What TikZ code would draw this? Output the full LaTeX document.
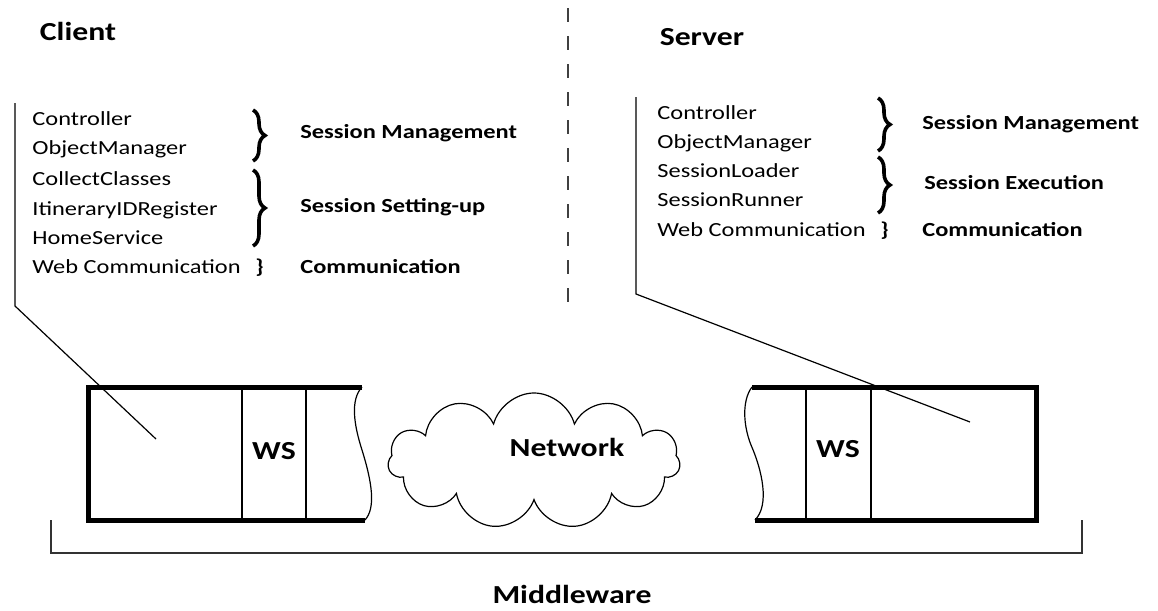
\documentclass[tikz,border=0pt]{standalone}
\usepackage{fontspec}
\setmainfont{Carlito}[FakeStretch=1.22]
\usetikzlibrary{shapes.symbols,decorations.pathreplacing}

\begin{document}
\begin{tikzpicture}[x=0.5pt,y=-0.5pt,
    item/.style={anchor=west,inner sep=0pt,text height=0.65em,text depth=0.2em,font=\fontsize{10}{12}\selectfont},
    tag/.style={item,font=\fontsize{10}{12}\selectfont\bfseries},
    title/.style={inner sep=0pt,text height=0.65em,text depth=0.2em,font=\fontsize{13}{15}\selectfont\bfseries},
    brace/.style={decorate,decoration={brace,amplitude=6pt},line width=1.8pt},
    frame/.style={line width=2.5pt},
    rule/.style={line width=0.6pt}]
  \useasboundingbox (0,0) rectangle (1158,611);

  % titles
  \node[title] (client) at (78,36) {Client};
  \node[title] (server) at (702,41) {Server};
  \draw[rule,line width=1pt,black!75,dash pattern=on 7pt off 7pt] (568,8) -- (568,306);

  % client side
  \node[item] (c1) at (32,121) {Controller};
  \node[item] (c2) at (32,150) {ObjectManager};
  \node[item] (c3) at (32,181) {CollectClasses};
  \node[item] (c4) at (32,211) {ItineraryIDRegister};
  \node[item] (c5) at (32,240) {HomeService};
  \node[item] (c6) at (32,269) {Web Communication};
  \node[tag] (c6b) at (255,269) {\}};
  \draw[brace] (253,110) -- (253,161);
  \draw[brace] (253,170) -- (253,246);
  \node[tag] (cman) at (300,134) {Session Management};
  \node[tag] (cset) at (300,208) {Session Setting-up};
  \node[tag] (ccom) at (300,269) {Communication};

  % server side
  \node[item] (s1) at (657,115) {Controller};
  \node[item] (s2) at (657,144) {ObjectManager};
  \node[item] (s3) at (657,173) {SessionLoader};
  \node[item] (s4) at (657,202) {SessionRunner};
  \node[item] (s5) at (657,232) {Web Communication};
  \node[tag] (s5b) at (880,232) {\}};
  \draw[brace] (878,98) -- (878,151);
  \draw[brace] (878,157) -- (878,213);
  \node[tag] (sman) at (922,125) {Session Management};
  \node[tag] (sexe) at (924,185) {Session Execution};
  \node[tag] (scom) at (922,232) {Communication};

  % lead lines
  \coordinate (ctop) at (15,103);
  \coordinate (cbend) at (15,306);
  \coordinate (cend) at (156,439);
  \coordinate (stop) at (636,97);
  \coordinate (sbend) at (636,294);
  \coordinate (send) at (970,422);
  \draw[rule] (ctop) -- (cbend) -- (cend);
  \draw[rule] (stop) -- (sbend) -- (send);

  % client box
  \draw[rule] (242,387) -- (242,520) (306,387) -- (306,520);
  \draw[rule] (362,387) .. controls (350,400) and (354,425) .. (362,450)
     .. controls (372,482) and (376,508) .. (365,520);
  \draw[frame] (362,387) -- (88,387) -- (88,520) -- (365,520);
  \node[title] (cws) at (274,455) {WS};

  % server box
  \draw[rule] (806,387) -- (806,520) (871,387) -- (871,520);
  \draw[rule] (752,387) .. controls (742,400) and (743,425) .. (751,445)
     .. controls (762,470) and (770,505) .. (755,520);
  \draw[frame] (752,387) -- (1036,387) -- (1036,520) -- (755,520);
  \node[title] (sws) at (838,453) {WS};

  % network
  \node[cloud,draw,rule,cloud puffs=11,aspect=2.1,minimum width=146pt,minimum height=68pt,inner sep=0pt] (net) at (534,461) {};
  \node[title] (netlabel) at (567,452) {Network};

  % middleware
  \draw[rule,line width=0.8pt,black!80] (51,520) -- (51,553) -- (1082,553) -- (1082,520);
  \node[title] (mw) at (572,599) {Middleware};
\end{tikzpicture}
\end{document}
